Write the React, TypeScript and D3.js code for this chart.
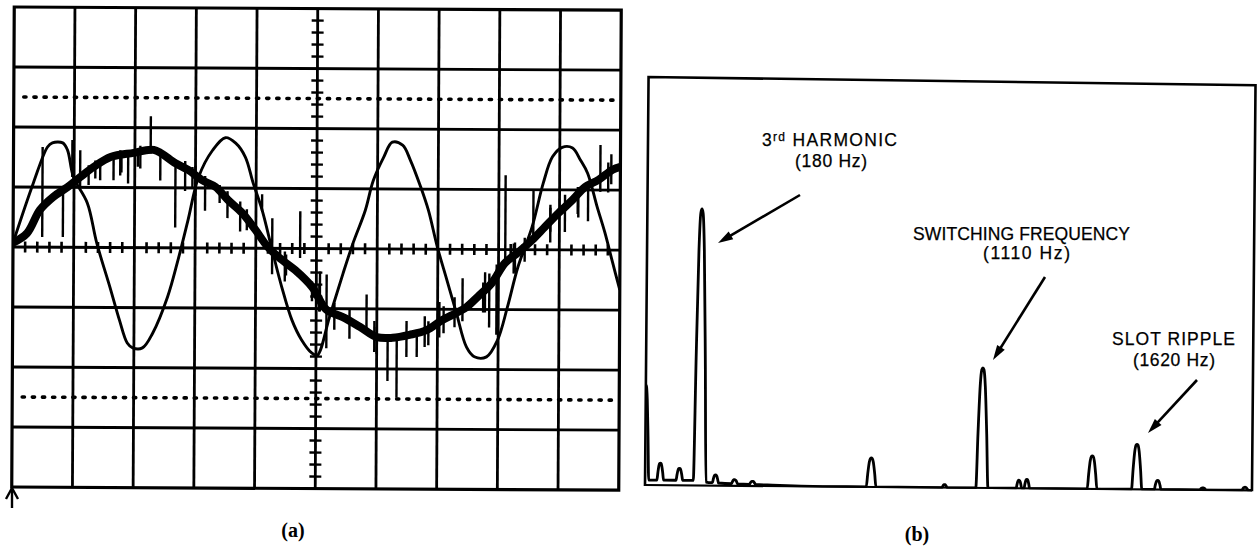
import React from "react";
import * as d3 from "d3";

// ---------------- Panel (a): oscilloscope traces (units: screen divisions) ----------------
// x: 0..10 divisions, y: -4..+4 divisions
const thinTrace: [number, number][] = [
  [0, 0.07], [0.33, 1.07], [0.56, 1.67], [0.64, 1.74], [0.81, 1.74], [0.89, 1.62], [0.99, 1.17],
  [1.22, 0.74], [1.38, 0.07], [1.6, -0.66], [1.76, -1.21], [1.89, -1.59], [1.98, -1.67], [2.14, -1.67],
  [2.31, -1.42], [2.55, -0.82], [2.72, -0.2], [2.88, 0.46], [3.05, 1.18], [3.28, 1.63], [3.49, 1.84],
  [3.66, 1.75], [3.82, 1.52], [3.95, 1.09], [4.1, 0.64], [4.27, -0.03], [4.43, -0.64], [4.6, -1.19],
  [4.76, -1.52], [4.93, -1.74], [5.02, -1.78], [5.22, -1.14], [5.44, -0.41], [5.6, 0.09], [5.8, 0.64],
  [5.93, 1.14], [6.1, 1.53], [6.24, 1.78], [6.41, 1.73], [6.54, 1.48], [6.71, 1.04], [6.84, 0.65],
  [6.99, 0.04], [7.15, -0.51], [7.31, -1.06], [7.48, -1.63], [7.61, -1.79], [7.81, -1.79], [7.99, -1.51],
  [8.15, -0.96], [8.32, -0.29], [8.55, 0.38], [8.73, 1.11], [8.88, 1.55], [9.04, 1.71], [9.21, 1.7],
  [9.34, 1.5], [9.46, 1.28], [9.62, 0.72], [9.75, 0.29], [9.88, -0.21], [10.0, -0.66],
];

const thickTrace: [number, number][] = [
  [0, 0.07], [0.23, 0.23], [0.44, 0.62], [0.66, 0.84], [0.89, 1.0], [1.1, 1.17], [1.32, 1.34],
  [1.6, 1.51], [1.98, 1.58], [2.31, 1.63], [2.67, 1.41], [2.88, 1.3], [3.11, 1.13], [3.33, 1.02],
  [3.54, 0.8], [3.77, 0.59], [3.99, 0.31], [4.2, 0.02], [4.43, -0.19], [4.65, -0.36], [4.93, -0.64],
  [5.17, -1.02], [5.44, -1.14], [5.72, -1.3], [6.0, -1.47], [6.26, -1.48], [6.54, -1.43], [6.82, -1.35],
  [7.08, -1.18], [7.31, -1.06], [7.48, -0.96], [7.66, -0.79], [7.89, -0.56], [8.11, -0.22], [8.32, -0.05],
  [8.55, 0.16], [8.76, 0.38], [8.98, 0.61], [9.21, 0.83], [9.42, 1.05], [9.64, 1.17], [9.87, 1.34],
  [10.0, 1.39],
];

// switching spikes on the thick trace: [x, top, bottom]
const spikes: [number, number, number][] = [
  [0.48, 1.67, 0.17], [0.82, 1.0, 0.17], [0.97, 1.79, 1.17], [1.1, 1.62, 1.0], [1.35, 1.45, 1.15],
  [1.65, 1.5, 1.12], [1.78, 1.55, 1.25], [1.89, 1.57, 1.07], [2.05, 1.65, 1.35], [2.26, 2.19, 1.57],
  [2.42, 1.62, 1.12], [2.67, 1.45, 0.34], [2.95, 1.35, 1.0], [3.16, 1.2, 0.62], [3.4, 1.05, 0.75],
  [3.53, 0.95, 0.5], [3.85, 0.65, 0.3], [4.1, 0.9, 0.62], [4.27, 0.5, -0.43], [4.5, -0.1, -0.45],
  [4.73, 0.62, -0.16], [4.93, -0.55, -0.88], [5.05, -0.6, -1.05], [5.17, -0.43, -1.66], [5.3, -0.9, -1.35],
  [5.55, -1.0, -1.5], [5.83, -0.76, -1.42], [6.0, -1.3, -1.75], [6.18, -1.42, -2.2], [6.33, -1.45, -2.48],
  [6.49, -1.2, -1.8], [6.66, -1.37, -1.8], [6.85, -1.2, -1.6], [7.1, -0.95, -1.4], [7.41, -0.48, -1.2],
  [7.75, -0.55, -1.05], [7.85, -0.4, -1.3], [7.97, -0.25, -1.42], [8.11, 1.24, -0.2], [8.25, 0.1, -0.4],
  [8.57, 1.0, 0.13], [8.85, 0.75, 0.3], [9.09, 0.92, 0.3], [9.3, 1.05, 0.6], [9.47, 1.13, 0.48],
  [9.67, 1.75, 0.97], [9.85, 1.6, 1.1],
  [1.24, 1.37, 1.04], [1.43, 1.45, 1.12], [1.76, 1.62, 1.2], [2.09, 1.7, 1.32], [2.83, 1.45, 0.95],
  [3.0, 1.37, 0.87], [3.74, 0.78, 0.28], [4.48, -0.05, -0.55], [5.06, -0.38, -1.05], [5.96, -1.2, -1.72],
  [6.79, -1.12, -1.63], [7.03, -0.88, -1.47], [7.28, -0.8, -1.3], [7.78, -0.38, -1.05], [8.27, 0.12, -0.38],
  [8.43, 0.2, -0.2], [8.85, 0.7, 0.12], [9.31, 1.04, 0.54], [9.8, 1.46, 0.96],
];

const referenceLevels = [2.5, -2.5];

// ---------------- Panel (b): spectrum ----------------
const peakFreq = [0, 50, 113, 180, 232, 295, 354, 745, 987, 1110, 1232, 1258, 1473, 1620, 1689, 1838, 1977];
const peakAmp = [95, 17, 12, 272, 8, 4, 3, 29, 3, 120, 8, 9, 33, 45, 9, 2, 3];
const peakHalfWidth = [12, 11, 11, 21, 10, 10, 10, 16, 8, 20, 9, 9, 16, 17, 11, 10, 10];
const floorFreq = [0, 170, 210, 300, 420, 600, 2000];
const floorLevel = [5, 5, 3, 2, 1, 0, 0];

const shapeOff = [-1, -0.72, -0.42, -0.18, 0, 0.18, 0.42, 0.72, 1];
const shapeRel = [0, 0.45, 0.85, 0.985, 1, 0.985, 0.85, 0.45, 0];

const SANS = "'Liberation Sans', Arial, Helvetica, sans-serif";
const SERIF = "'Liberation Serif', 'Times New Roman', serif";

function Arrow({ x1, y1, x2, y2 }: { x1: number; y1: number; x2: number; y2: number }) {
  const dx = x2 - x1, dy = y2 - y1;
  const L = Math.hypot(dx, dy);
  const ux = dx / L, uy = dy / L;
  const hl = 15, hw = 4.5;
  const bx = x2 - ux * hl, by = y2 - uy * hl;
  const pts = [
    [x2, y2],
    [bx - uy * hw, by + ux * hw],
    [bx + uy * hw, by - ux * hw],
  ];
  return (
    <g>
      <line x1={x1} y1={y1} x2={bx + ux * 2} y2={by + uy * 2} stroke="#000" strokeWidth={2.6} />
      <polygon points={pts.map((p) => p.join(",")).join(" ")} fill="#000" />
    </g>
  );
}

export default function App() {
  // panel (a)
  const xa = d3.scaleLinear().domain([0, 10]).range([13, 620]);
  const ya = d3.scaleLinear().domain([-4, 4]).range([487, 7]);
  const lineA = d3
    .line<[number, number]>()
    .x((d) => xa(d[0]))
    .y((d) => ya(d[1]))
    .curve(d3.curveCatmullRom.alpha(0.5));
  const gridXs = d3.range(1, 10);
  const gridYs = d3.range(-3, 4);
  const minorX = d3.range(0, 10.001, 0.2).filter((v) => Math.abs(v - Math.round(v)) > 0.01);
  const minorY = d3.range(-4, 4.001, 0.2).filter((v) => Math.abs(v - Math.round(v)) > 0.01);

  // panel (b)
  const xb = d3.scaleLinear().domain([0, 2000]).range([645, 1252]);
  const yb = d3.scaleLinear().domain([0, 400]).range([485, 85]);
  const floor = d3.scaleLinear().domain(floorFreq).range(floorLevel);
  const pts: [number, number][] = [];
  floorFreq.forEach((f, i) => {
    if (!peakFreq.some((p, j) => Math.abs(f - p) <= peakHalfWidth[j])) pts.push([f, floorLevel[i]]);
  });
  peakFreq.forEach((p, j) => {
    shapeOff.forEach((o, k) => {
      const f = p + o * peakHalfWidth[j];
      if (f < 0) return;
      pts.push([f, floor(f) + shapeRel[k] * peakAmp[j]]);
    });
  });
  pts.sort((a, b) => a[0] - b[0]);
  const lineB = d3
    .line<[number, number]>()
    .x((d) => xb(d[0]))
    .y((d) => yb(d[1]))
    .curve(d3.curveMonotoneX);

  return (
    <svg
      width={1258}
      height={550}
      viewBox="0 0 1258 550"
      style={{ position: "absolute", left: 0, top: 0, display: "block", background: "#fff" }}
    >
      <rect x={0} y={0} width={1258} height={550} fill="#fff" />
      <defs>
        <clipPath id="clipA">
          <rect x={xa(0)} y={ya(4)} width={xa(10) - xa(0)} height={ya(-4) - ya(4)} />
        </clipPath>
        <clipPath id="clipB">
          <rect x={645} y={60} width={607} height={426} />
        </clipPath>
      </defs>

      {/* ---------- Panel (a) ---------- */}
      <g transform="rotate(0.3, 13, 247)">
        {gridXs.map((g) => (
          <line key={"gx" + g} x1={xa(g)} x2={xa(g)} y1={ya(4)} y2={ya(-4)} stroke="#000" strokeWidth={2.8} />
        ))}
        {gridYs.map((g) => (
          <line key={"gy" + g} x1={xa(0)} x2={xa(10)} y1={ya(g)} y2={ya(g)} stroke="#000" strokeWidth={2.8} />
        ))}
        {referenceLevels.map((r) => (
          <line
            key={"ref" + r}
            x1={xa(0) + 10}
            x2={xa(10) - 2}
            y1={ya(r)}
            y2={ya(r)}
            stroke="#000"
            strokeWidth={3.6}
            strokeLinecap="round"
            strokeDasharray="2.2 7.92"
          />
        ))}
        {minorX.map((v) => (
          <line key={"mx" + v} x1={xa(v)} x2={xa(v)} y1={ya(0) - 5.5} y2={ya(0) + 5.5} stroke="#000" strokeWidth={2.6} />
        ))}
        {minorY.map((v) => (
          <line key={"my" + v} x1={xa(5) - 6} x2={xa(5) + 6} y1={ya(v)} y2={ya(v)} stroke="#000" strokeWidth={2.4} />
        ))}
        <rect
          x={xa(0)}
          y={ya(4)}
          width={xa(10) - xa(0)}
          height={ya(-4) - ya(4)}
          fill="none"
          stroke="#000"
          strokeWidth={3.2}
        />
        <g clipPath="url(#clipA)">
          <path d={lineA(thickTrace) || ""} fill="none" stroke="#000" strokeWidth={8} strokeLinejoin="round" strokeLinecap="round" />
          {spikes.map((s, i) => (
            <line key={"sp" + i} x1={xa(s[0])} x2={xa(s[0])} y1={ya(s[1])} y2={ya(s[2])} stroke="#000" strokeWidth={2.4} />
          ))}
          <path d={lineA(thinTrace) || ""} fill="none" stroke="#000" strokeWidth={2.9} strokeLinejoin="round" />
        </g>
      </g>
      {/* trigger arrow */}
      <g stroke="#000" strokeWidth={2.4} fill="none">
        <line x1={12} y1={508} x2={12} y2={489} />
        <polyline points="6,499 12,488 18,499" />
      </g>
      <text x={293} y={537} textAnchor="middle" fontFamily={SERIF} fontWeight="bold" fontSize={20}>
        (a)
      </text>

      {/* ---------- Panel (b) ---------- */}
      <g transform="rotate(0.5, 645, 485)">
        <path d="M645,486 L645,77 L1252,80 L1252,486" fill="none" stroke="#000" strokeWidth={2.6} />
        <line x1={645} x2={1252} y1={485} y2={485} stroke="#000" strokeWidth={2.2} />
        <g clipPath="url(#clipB)">
          <path d={lineB(pts) || ""} fill="none" stroke="#000" strokeWidth={2.8} strokeLinejoin="round" />
        </g>
      </g>

      <g fontFamily={SANS} fill="#000" stroke="#000" strokeWidth={0.25}>
        <text x={762} y={146} fontSize={17.5} textLength={135} lengthAdjust="spacing">
          3<tspan dy={-5} fontSize={12}>rd</tspan>
          <tspan dy={5}>{"\u00a0HARMONIC"}</tspan>
        </text>
        <text x={795} y={167} fontSize={17.5} textLength={72} lengthAdjust="spacing">
          (180 Hz)
        </text>
        <text x={913} y={240} fontSize={17.5} textLength={217} lengthAdjust="spacing">
          SWITCHING FREQUENCY
        </text>
        <text x={983} y={259} fontSize={17.5} textLength={87} lengthAdjust="spacing">
          (1110 Hz)
        </text>
        <text x={1112} y={345} fontSize={17.5} textLength={123} lengthAdjust="spacing">
          SLOT RIPPLE
        </text>
        <text x={1133} y={366} fontSize={17.5} textLength={82} lengthAdjust="spacing">
          (1620 Hz)
        </text>
      </g>
      <Arrow x1={800} y1={195} x2={718} y2={243} />
      <Arrow x1={1045} y1={277} x2={993} y2={360} />
      <Arrow x1={1197} y1={380} x2={1148} y2={433} />

      <text x={917} y={541} textAnchor="middle" fontFamily={SERIF} fontWeight="bold" fontSize={20}>
        (b)
      </text>
    </svg>
  );
}
